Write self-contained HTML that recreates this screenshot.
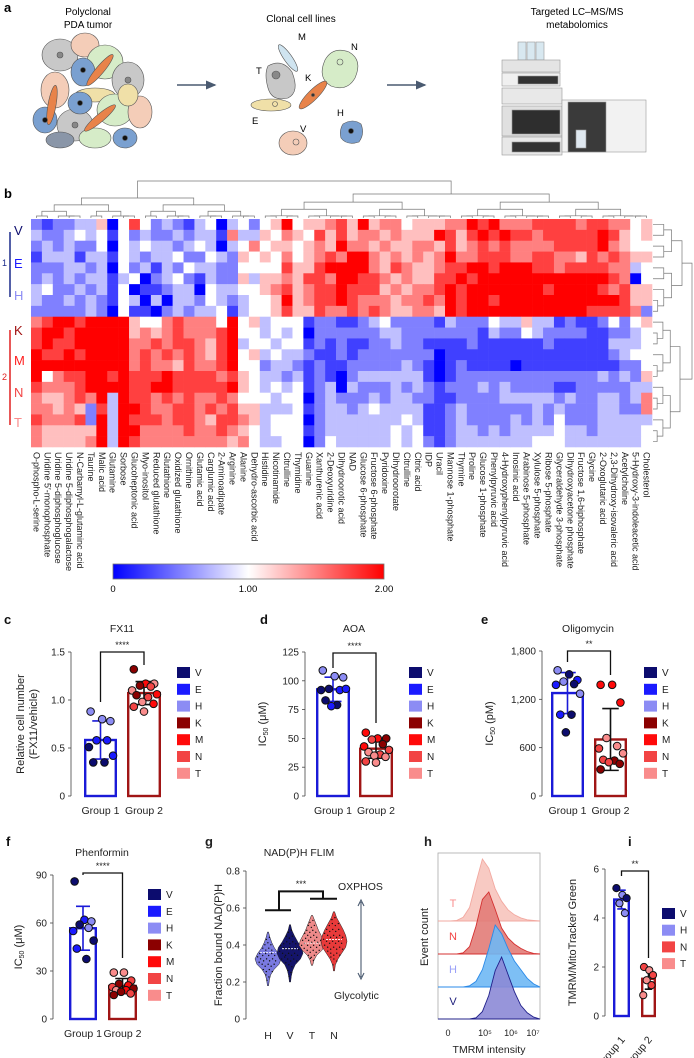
<!DOCTYPE html>
<html><head><meta charset="utf-8">
<style>
html,body{margin:0;padding:0;background:#fff;}
svg{display:block;font-family:"Liberation Sans",Arial,sans-serif;}
</style></head>
<body>
<svg id="fig" width="694" height="1058" viewBox="0 0 694 1058" xmlns="http://www.w3.org/2000/svg">
<defs>
<linearGradient id="cbar" x1="0" x2="1" y1="0" y2="0">
<stop offset="0" stop-color="#0000ff"/><stop offset="0.5" stop-color="#ffffff"/><stop offset="1" stop-color="#ff0000"/>
</linearGradient>
<marker id="arr" markerWidth="8" markerHeight="8" refX="6" refY="4" orient="auto"><path d="M0,1 L7,4 L0,7 z" fill="#4a5a70"/></marker>
<marker id="arr2" markerWidth="8" markerHeight="8" refX="6" refY="4" orient="auto"><path d="M0,1 L7,4 L0,7 z" fill="#4a5a70"/></marker>
</defs>

<!-- Panel a -->
<g>
<text x="4" y="12" font-size="13" font-weight="bold">a</text>
<text x="88" y="15" font-size="10" text-anchor="middle">Polyclonal</text>
<text x="88" y="28" font-size="10" text-anchor="middle">PDA tumor</text>
<g stroke="#555" stroke-width="0.6">
<ellipse cx="60" cy="55" rx="18" ry="16" fill="#c8c8c8"/>
<ellipse cx="85" cy="45" rx="14" ry="12" fill="#f4cdb8"/>
<ellipse cx="105" cy="62" rx="18" ry="17" fill="#d6ecc8"/>
<ellipse cx="128" cy="80" rx="16" ry="18" fill="#c8c8c8"/>
<ellipse cx="83" cy="72" rx="12" ry="14" fill="#7aa0d0"/>
<ellipse cx="95" cy="95" rx="20" ry="7" fill="#f0e0a8"/>
<ellipse cx="55" cy="90" rx="14" ry="18" fill="#f4cdb8"/>
<ellipse cx="115" cy="110" rx="18" ry="16" fill="#d6ecc8"/>
<ellipse cx="140" cy="112" rx="12" ry="16" fill="#f4cdb8"/>
<ellipse cx="45" cy="120" rx="12" ry="13" fill="#7aa0d0"/>
<ellipse cx="75" cy="125" rx="18" ry="16" fill="#c8c8c8"/>
<ellipse cx="60" cy="140" rx="14" ry="8" fill="#8a96a8"/>
<ellipse cx="95" cy="138" rx="16" ry="10" fill="#d6ecc8"/>
<ellipse cx="125" cy="138" rx="12" ry="10" fill="#7aa0d0"/>
<ellipse cx="100" cy="118" rx="4" ry="20" fill="#e8834a" transform="rotate(50 100 118)"/>
<ellipse cx="52" cy="105" rx="4" ry="20" fill="#e8834a" transform="rotate(10 52 105)"/>
<ellipse cx="100" cy="70" rx="4" ry="20" fill="#e8834a" transform="rotate(40 100 70)"/>
<ellipse cx="80" cy="103" rx="12" ry="11" fill="#7aa0d0"/>
<ellipse cx="128" cy="95" rx="10" ry="11" fill="#f0e0a8"/>
<circle cx="83" cy="70" r="2.5" fill="#111"/>
<circle cx="45" cy="120" r="2.5" fill="#111"/>
<circle cx="125" cy="138" r="2.5" fill="#111"/>
<circle cx="80" cy="103" r="2.5" fill="#111"/>
<circle cx="60" cy="55" r="3" fill="#888"/>
<circle cx="128" cy="80" r="3" fill="#888"/>
<circle cx="75" cy="125" r="3" fill="#888"/>
</g>
<line x1="177" y1="85" x2="215" y2="85" stroke="#4a5a70" stroke-width="1.5" marker-end="url(#arr)"/>
<text x="301" y="22" font-size="10" text-anchor="middle">Clonal cell lines</text>
<g stroke="#555" stroke-width="0.6">
<ellipse cx="288" cy="58" rx="4" ry="16" fill="#cfe4f0" transform="rotate(-35 288 58)"/>
<path d="M325,60 q8,-14 24,-8 q14,8 6,26 q-8,14 -24,8 q-14,-8 -6,-26z" fill="#d6ecc8"/>
<circle cx="340" cy="62" r="3" fill="none"/>
<path d="M268,66 q14,-8 24,6 q8,20 -4,26 q-16,4 -20,-10 q-4,-14 0,-22z" fill="#c8c8c8"/>
<circle cx="276" cy="75" r="4" fill="#888"/>
<ellipse cx="313" cy="95" rx="5" ry="19" fill="#e8834a" transform="rotate(45 313 95)"/>
<circle cx="313" cy="95" r="1.5" fill="#333"/>
<ellipse cx="271" cy="105" rx="20" ry="6" fill="#f0e0a8"/>
<circle cx="275" cy="104" r="2.5" fill="none"/>
<path d="M343,124 q10,-6 18,0 q4,10 -2,18 q-12,4 -18,-4 q-2,-8 2,-14z" fill="#7aa0d0"/>
<circle cx="351" cy="131" r="2.5" fill="#111"/>
<ellipse cx="293" cy="143" rx="14" ry="12" fill="#f4cdb8"/>
<circle cx="296" cy="142" r="3" fill="none"/>
</g>
<g font-size="9.5">
<text x="298" y="40">M</text><text x="351" y="50">N</text><text x="256" y="74">T</text>
<text x="305" y="81">K</text><text x="252" y="124">E</text><text x="337" y="116">H</text><text x="300" y="132">V</text>
</g>
<line x1="387" y1="85" x2="425" y2="85" stroke="#4a5a70" stroke-width="1.5" marker-end="url(#arr2)"/>
<text x="577" y="15" font-size="10" text-anchor="middle">Targeted LC–MS/MS</text>
<text x="577" y="28" font-size="10" text-anchor="middle">metabolomics</text>
<g stroke="#999" stroke-width="0.6">
<rect x="518" y="42" width="8" height="18" fill="#d8e8f0"/><rect x="527" y="42" width="8" height="18" fill="#d8e8f0"/><rect x="536" y="42" width="8" height="18" fill="#d8e8f0"/>
<rect x="502" y="60" width="58" height="12" fill="#e4e4e4"/>
<rect x="502" y="73" width="58" height="13" fill="#f0f0f0"/><rect x="518" y="76" width="40" height="8" fill="#333"/>
<rect x="502" y="88" width="60" height="16" fill="#e8e8e8"/>
<rect x="502" y="106" width="60" height="30" fill="#e0e0e0"/><rect x="512" y="110" width="48" height="24" fill="#2e2e2e"/>
<rect x="502" y="137" width="60" height="18" fill="#e8e8e8"/><rect x="512" y="142" width="48" height="10" fill="#333"/>
<rect x="562" y="100" width="84" height="52" fill="#f2f2f2"/>
<rect x="568" y="102" width="38" height="50" fill="#3a3a3a"/>
<rect x="576" y="130" width="10" height="18" fill="#dfe8f0"/>
</g>
</g>

<text x="4" y="198" font-size="13" font-weight="bold">b</text>
<g id="heat"></g>
<g>
<rect x="113" y="564" width="271" height="15" fill="url(#cbar)" stroke="#777" stroke-width="0.8"/>
<text x="113" y="592" font-size="9.5" text-anchor="middle">0</text>
<text x="248" y="592" font-size="9.5" text-anchor="middle">1.00</text>
<text x="384" y="592" font-size="9.5" text-anchor="middle">2.00</text>
</g>
<g id="panels"></g>
</svg>

<script>
// ---------- Heatmap data ----------
const heatRowLabels = ['V','','E','','','H','','','', 'K','','M','','','N','','','T','','',''];
const heatColumns = ['O-phospho-L-serine','Uridine 5\u2032-monophosphate','Uridine 5-diphosphoglucose','Uridine 5-diphosphogalactose','N-Carbamyl-L-glutaminc acid','Taurine','Malic acid','Glutamine','Sorbose','Glucoheptonic acid','Myo-inositol','Reduced glutathione','Glutathione','Oxidized glutathione','Ornithine','Glutamic acid','Carglumic acid','2-Aminoadipate','Arginine','Alanine','Dehydro-ascorbic acid','Histidine','Nicotinamide','Citrulline','Thymidine','Guanine','Xanthurenic acid','2-Deoxyuridine','Dihydroorotic acid','NAD','Glucose 6-phosphate','Fructose 6-phosphate','Pyridoxine','Dihydroorotate','Citrulline','Citric acid','IDP','Uracil','Mannose 1-phosphate','Thymine','Proline','Glucose 1-phosphate','Phenylpyruvic acid','4-Hydroxyphenylpyruvic acid','Inosinic acid','Arabinose 5-phosphate','Xylulose 5-phosphate','Ribose 5-phosphate','Glyceraldehyde 3-phosphate','Dihydroxyacetone phosphate','Fructose 1,6-biphosphate','Glycine','2-Oxoglutaric acid','2,3-Dihydroxy-isovaleric acid','Acetylcholine','5-Hydroxy-3-indoleacetic acid','Cholesterol'];
// values coded 0..8 (0 = 0.00, 4 = 1.00, 8 = 2.00)
const heatGroup1Left = ['212233504742321340342','322343414232232331633','232322404343323430346','133313314323342243254','222332304231324332244','232323313402342132253','342232314011233043344','322323214303033243234','222223204110232334134'];
const heatGroup1Right = ['458455675856645556687866677776776645','546547575665655587578787767777787545','455456586656556657567676666777786544','546456768865656568667776677665767655','447557888865765567788788877677776634','556577688776565577878888888888887604','567567787775656678788888887888876755','458567787666566768788788888888888755','457557667676556658788888888888777762'];
const heatGroup2Left = ['678878888544676664845','788788888565676667844','787788888667677657834','877878888676767657845','888888888676657667844','846778878777877776754','766678888778877777854','655676838776767667644','665652738876677676755','766672838777677657765','655555838866667667654','655556838766666666564'];
const heatGroup2Right = ['344412211234222213222433533121124245','343402222223322222221322432222112234','434412121122322111121111112111113334','343321121222222201111111111111112344','233212112222232101211110111111111224','332312102333333101222222222222232325','343412303222323212223232222112222233','434402322232332211222233333232233236','333412332343333112322222232322233226','344402333333343112322223232422233333','344412333333434112332323333433233334','334402433333434212333333344433333334'];

// ---------- Bar chart data ----------
const cCats = ['Group 1','Group 2'];
const cG1 = [0.88,0.80,0.78,0.58,0.58,0.51,0.42,0.35,0.35];
const cG1Lines = ['H','H','H','E','E','V','E','V','V'];
const cG2 = [1.32,1.17,1.17,1.15,1.14,1.10,1.06,1.05,1.03,0.98,0.96,0.93,0.88];
const cG2Lines = ['K','M','T','K','N','T','M','K','N','T','M','N','T'];
const cTicks = [0,0.5,1.0,1.5];
const cTickLabels = ['0','0.5','1.0','1.5'];

const dG1 = [109,104,103,93,92,92,93,83,79,78];
const dG1Lines = ['H','H','H','V','E','V','E','V','V','E'];
const dG2 = [55,50,50,49,45,43,40,38,36,35,34,30,29];
const dG2Lines = ['M','M','K','N','K','M','N','T','N','T','T','N','T'];
const dTicks = [0,25,50,75,100,125];
const dTickLabels = ['0','25','50','75','100','125'];

const eG1 = [1560,1510,1440,1420,1390,1380,1270,1010,1010,790];
const eG1Lines = ['H','V','E','H','V','E','H','E','V','V'];
const eG2 = [1380,1380,1160,720,620,590,530,450,440,420,400,330];
const eG2Lines = ['M','M','M','T','T','N','T','N','K','N','K','K'];
const eTicks = [0,600,1200,1800];
const eTickLabels = ['0','600','1,200','1,800'];

const fG1 = [86,62,61,59,57,55,49,44,37.5];
const fG1Lines = ['V','E','H','V','H','E','V','E','V'];
const fG2 = [29,29,24,22,21,20,19,18,18,17,16,15];
const fG2Lines = ['T','T','N','K','M','N','K','T','M','K','N','K'];
const fTicks = [0,30,60,90];
const fTickLabels = ['0','30','60','90'];

const iG1 = [5.22,4.94,4.81,4.6,4.2];
const iG1Lines = ['V','H','V','H','H'];
const iG2 = [2.0,1.87,1.67,1.46,1.26,0.85];
const iG2Lines = ['N','T','N','T','N','T'];
const iTicks = [0,2,4,6];
const iTickLabels = ['0','2','4','6'];

// ---------- Violin data (g) ----------
const gCats = ['H','V','T','N'];
const gMin = [0.18,0.20,0.29,0.26];
const gMax = [0.47,0.51,0.56,0.58];
const gMedian = [0.36,0.38,0.41,0.43];
const gDensH = [0.05,0.1,0.2,0.45,0.85,1.0,0.8,0.5,0.3,0.15,0.04];
const gDensV = [0.05,0.1,0.2,0.4,0.8,1.0,0.9,0.6,0.35,0.15,0.04];
const gDensT = [0.05,0.15,0.35,0.75,1.0,0.9,0.7,0.5,0.35,0.2,0.05];
const gDensN = [0.05,0.1,0.3,0.6,0.9,1.0,0.9,0.7,0.45,0.2,0.05];
const gTicks = [0,0.2,0.4,0.6,0.8];

// ---------- Histogram data (h) ----------
const hLines = ['T','N','H','V'];
const hT = [0,0,1,6,22,62,100,85,52,32,18,10,5,2,1,0];
const hN = [0,0,0,2,12,45,88,100,72,42,26,16,9,4,1,0];
const hH = [0,0,0,0,2,9,28,62,100,86,62,42,28,14,5,0];
const hV = [0,0,0,0,0,2,12,38,78,100,72,44,22,10,3,0];
const hTickLabels = ['0','10⁵','10⁶','10⁷'];

const LINE_COLORS = {V:'#0c0c6e',E:'#1a1aff',H:'#8c8cf4',K:'#8b0000',M:'#ff0a0a',N:'#f24444',T:'#f98c8c'};

const NS = 'http://www.w3.org/2000/svg';
function mk(tag, parent){ const e=document.createElementNS(NS,tag); parent.appendChild(e); return e; }
function set(e, o){ for(const k in o) e.setAttribute(k,o[k]); return e; }
function heatColor(d){
  const v=d/8;
  if(v<=0.5){ const t=v/0.5; const c=Math.round(255*t); return `rgb(${c},${c},255)`; }
  const t=(v-0.5)/0.5; const c=Math.round(255*(1-t)); return `rgb(255,${c},${c})`;
}

// ---------- Heatmap ----------
const heat = document.getElementById('heat');
const HX0=31, HX1=652, HY0=219, HY1=447;
const nCols = heatColumns.length;
const allRows = [];
for(let r=0;r<heatGroup1Left.length;r++) allRows.push(heatGroup1Left[r]+heatGroup1Right[r]);
for(let r=0;r<heatGroup2Left.length;r++) allRows.push(heatGroup2Left[r]+heatGroup2Right[r]);
const nRows = allRows.length;
const cw=(HX1-HX0)/nCols, rh=(HY1-HY0)/nRows;
function colX(i){ return HX0+i*cw; }
function rowY(j){ return HY0+j*rh; }
for(let j=0;j<nRows;j++){
  for(let i=0;i<nCols;i++){
    const ch = allRows[j][i]; const d = ch===undefined?4:+ch;
    const r = mk('rect',heat);
    set(r,{x:colX(i).toFixed(2),y:rowY(j).toFixed(2),width:(cw+0.3).toFixed(2),height:(rh+0.3).toFixed(2),fill:heatColor(d)});
    
    
  }
}
// column labels
for(let i=0;i<nCols;i++){
  const t=mk('text',heat);
  const x=colX(i)+cw/2-3, y=452;
  set(t,{x:x,y:y,'font-size':9,transform:`rotate(90 ${x} ${y})`,fill:'#222'});
  t.textContent=heatColumns[i];
  
  
}
// row labels
const rowLabelPos=[['V',230,'#0c0c6e'],['E',263,'#1a1aff'],['H',295,'#8c8cf4'],['K',330,'#a01010'],['M',360,'#ff2020'],['N',392,'#f24444'],['T',422,'#f98c8c']];
rowLabelPos.forEach(p=>{
  const t=mk('text',heat);
  set(t,{x:14,y:p[1]+5,'font-size':13,fill:p[2]});
  t.textContent=p[0];
  
  
});
const g1bar=mk('line',heat); set(g1bar,{x1:10,x2:10,y1:232,y2:297,stroke:'#1a2a8a','stroke-width':1.5});
 
const g2bar=mk('line',heat); set(g2bar,{x1:10,x2:10,y1:330,y2:425,stroke:'#e02020','stroke-width':1.5});
 
const g1t=mk('text',heat); set(g1t,{x:2,y:266,'font-size':9,fill:'#1a2a8a'}); g1t.textContent='1';
 
const g2t=mk('text',heat); set(g2t,{x:2,y:380,'font-size':9,fill:'#e02020'}); g2t.textContent='2';
 

// dendrograms (structure only)
const dend = mk('g',heat);


function pl(pts){ const p=mk('polyline',dend); set(p,{points:pts.map(q=>q.join(',')).join(' '),fill:'none',stroke:'#777','stroke-width':0.7}); return p; }
function colTree(a,b,yTop,depth){ // returns center x
  if(b-a<=1){ return colX(a)+cw/2; }
  const m=Math.floor((a+b)/2);
  const yc=Math.min(HY0-3, yTop+ (HY0-3-yTop)*0.3 + depth*1.5);
  const xl=colTree(a,m,yc,depth+1), xr=colTree(m,b,yc,depth+1);
  pl([[xl,childY(a,m,yc)],[xl,yTop],[xr,yTop],[xr,childY(m,b,yc)]]);
  return (xl+xr)/2;
}
function childY(a,b,yc){ return (b-a<=1)?HY0-1:yc; }
const xL=colTree(0,21,198,1), xR=colTree(21,57,194,1);
pl([[xL,198],[xL,181],[xR,181],[xR,194]]);
function rowTree(a,b,xTop,depth){
  if(b-a<=1) return rowY(a)+rh/2;
  const m=Math.floor((a+b)/2);
  const xc=Math.max(HX1+3, xTop-(xTop-HX1-3)*0.35-depth);
  const yl=rowTree(a,m,xc,depth+1), yr=rowTree(m,b,xc,depth+1);
  const cx1=(m-a<=1)?HX1+1:xc, cx2=(b-m<=1)?HX1+1:xc;
  pl([[cx1,yl],[xTop,yl],[xTop,yr],[cx2,yr]]);
  return (yl+yr)/2;
}
const yA=rowTree(0,9,682,1), yB=rowTree(9,21,680,1);
pl([[682,yA],[692,yA],[692,yB],[680,yB]]);

// ---------- Bar panels ----------
const panels=document.getElementById('panels');
function text(parent,x,y,s,size,anchor,extra){ const t=mk('text',parent); set(t,Object.assign({x:x,y:y,'font-size':size,'text-anchor':anchor||'start',fill:'#222'},extra||{})); t.textContent=s; return t; }
function mean(a){ return a.reduce((s,v)=>s+v,0)/a.length; }
function sd(a){ const m=mean(a); return Math.sqrt(a.reduce((s,v)=>s+(v-m)*(v-m),0)/(a.length-1)); }
const jit=[-0.3,0.05,0.3,-0.12,0.2,-0.35,0.38,-0.22,0.12,-0.05,0.28,-0.3,0.0];

function barPanel(p){
  const g=mk('g',panels);
  
  
  const Y=v=>p.y0-(v/p.max)*(p.y0-p.yTop);
  const ax=mk('line',g); set(ax,{x1:p.ax,x2:p.ax,y1:p.y0,y2:p.yTop,stroke:'#444','stroke-width':0.8});
   
  p.ticks.forEach((tv,k)=>{
    const tk=mk('line',g); set(tk,{x1:p.ax-3,x2:p.ax,y1:Y(tv),y2:Y(tv),stroke:'#444','stroke-width':0.8});
     
    const tl=text(g,p.ax-6,Y(tv)+3.5,p.tickLabels[k],10,'end');
     
  });
  p.groups.forEach((gr,gi)=>{
    const m=mean(gr.vals), s=sd(gr.vals);
    const b=mk('rect',g); set(b,{x:gr.x0+1.2,y:Y(m),width:gr.x1-gr.x0-2.4,height:p.y0-Y(m),fill:'#fff',stroke:gr.color,'stroke-width':2.4});
     
    const cx=(gr.x0+gr.x1)/2, w=gr.x1-gr.x0;
    const ec=gi===0?gr.color:'#111';
    const e1=mk('path',g); set(e1,{d:`M${cx},${Y(m+s)}V${Y(m-s)}M${cx-w*0.25},${Y(m+s)}H${cx+w*0.25}M${cx-w*0.25},${Y(m-s)}H${cx+w*0.25}`,stroke:ec,'stroke-width':1.6,fill:'none'});
     
    gr.vals.forEach((v,k)=>{
      const c=mk('circle',g); set(c,{cx:cx+jit[k%jit.length]*w,cy:Y(v),r:p.r||3.8,fill:LINE_COLORS[gr.lines[k]],stroke:'#111','stroke-width':1});
       
    });
    if(p.rotLabels){
      const tl=text(g,cx+4,p.labelY,p.cats[gi],10.5,'end',{transform:`rotate(-50 ${cx+4} ${p.labelY})`});
       
    } else {
      const tl=text(g,cx,p.labelY,p.cats[gi],10.5,'middle');
       
    }
  });
  // significance bracket
  const c1=(p.groups[0].x0+p.groups[0].x1)/2, c2=(p.groups[1].x0+p.groups[1].x1)/2;
  const br=mk('path',g); set(br,{d:`M${c1},${p.sig[1]}V${p.sig[0]}H${c2}V${p.sig[2]}`,stroke:'#111','stroke-width':1.3,fill:'none'});
   
  const st=text(g,(c1+c2)/2,p.sig[0]-4,p.stars,9,'middle');
   
  if(p.title){ const tt=text(g,p.titleX,p.titleY,p.title,10.5,'middle');   }
  const pl2=text(g,p.letter[1],p.letter[2],p.letter[0],13,'start',{'font-weight':'bold',fill:'#111'});
   
  // y label
  p.ylab.forEach((l,k)=>{
    const yc=(p.y0+p.yTop)/2, x=p.ylabX+k*13;
    const t=text(g,x,yc,'',11,'middle',{transform:`rotate(-90 ${x} ${yc})`});
    t.innerHTML=l;
     
  });
  // legend
  p.legend.forEach((k,i)=>{
    const y=p.legY+i*p.legStep;
    const sq=mk('rect',g); set(sq,{x:p.legX,y:y-5,width:13,height:11,fill:LINE_COLORS[k]});
     
    const lt=text(g,p.legX+18,y+4,k,10,'start');
     
  });
}
const L7=['V','E','H','K','M','N','T'];
barPanel({name:'panel-c-fx11',ax:71,y0:796,yTop:652,max:1.5,ticks:cTicks,tickLabels:cTickLabels,cats:cCats,labelY:814,
  groups:[{x0:84,x1:117,vals:cG1,lines:cG1Lines,color:'#1a1ad8'},{x0:127,x1:161,vals:cG2,lines:cG2Lines,color:'#a01515'}],
  sig:[652,702,665],stars:'****',title:'FX11',titleX:122,titleY:632,letter:['c',4,624],
  ylab:['Relative cell number','(FX11/vehicle)'],ylabX:24,legend:L7,legX:177,legY:672,legStep:16.8});
barPanel({name:'panel-d-aoa',ax:305,y0:796,yTop:652,max:125,ticks:dTicks,tickLabels:dTickLabels,cats:cCats,labelY:814,
  groups:[{x0:316,x1:350,vals:dG1,lines:dG1Lines,color:'#1a1ad8'},{x0:359,x1:393,vals:dG2,lines:dG2Lines,color:'#a01515'}],
  sig:[653,668,723],stars:'****',title:'AOA',titleX:354,titleY:632,letter:['d',260,624],
  ylab:['IC<tspan font-size="7" dy="2">50</tspan><tspan dy="-2"> (μM)</tspan>'],ylabX:266,legend:L7,legX:409,legY:672,legStep:16.8});
barPanel({name:'panel-e-oligomycin',ax:542,y0:796,yTop:651,max:1800,ticks:eTicks,tickLabels:eTickLabels,cats:cCats,labelY:814,
  groups:[{x0:551,x1:584,vals:eG1,lines:eG1Lines,color:'#1a1ad8'},{x0:594,x1:627,vals:eG2,lines:eG2Lines,color:'#a01515'}],
  sig:[651,662,675],stars:'**',title:'Oligomycin',titleX:588,titleY:632,letter:['e',481,624],
  ylab:['IC<tspan font-size="7" dy="2">50</tspan><tspan dy="-2"> (pM)</tspan>'],ylabX:493,legend:L7,legX:644,legY:672,legStep:16.8});
barPanel({name:'panel-f-phenformin',ax:53,y0:1019,yTop:875,max:90,ticks:fTicks,tickLabels:fTickLabels,cats:cCats,labelY:1037,
  groups:[{x0:69,x1:97,vals:fG1,lines:fG1Lines,color:'#1a1ad8'},{x0:108,x1:137,vals:fG2,lines:fG2Lines,color:'#a01515'}],
  sig:[873,875,958],stars:'****',title:'Phenformin',titleX:102,titleY:856,letter:['f',6,846],
  ylab:['IC<tspan font-size="7" dy="2">50</tspan><tspan dy="-2"> (μM)</tspan>'],ylabX:22,legend:L7,legX:148,legY:894,legStep:16.8});
barPanel({name:'panel-i-tmrm',ax:605,y0:1016,yTop:869,max:6,ticks:iTicks,tickLabels:iTickLabels,cats:cCats,labelY:1040,rotLabels:true,r:3.6,
  groups:[{x0:613,x1:630,vals:iG1,lines:iG1Lines,color:'#1a1ad8'},{x0:641,x1:656,vals:iG2,lines:iG2Lines,color:'#a01515'}],
  sig:[871,876,958],stars:'**',title:'',letter:['i',628,846],
  ylab:['TMRM/MitoTracker Green'],ylabX:576,legend:['V','H','N','T'],legX:662,legY:913,legStep:16.7});

// ---------- Violin panel g ----------
(function(){
  const g=mk('g',panels);
  
  
  const AX=246, Y0=1019, YT=871;
  const Y=v=>Y0-(v/0.8)*(Y0-YT);
  const X=i=>268+i*22;
  const ax=mk('line',g); set(ax,{x1:AX,x2:AX,y1:Y0,y2:YT,stroke:'#444','stroke-width':0.8});
   
  gTicks.forEach(tv=>{
    const tk=mk('line',g); set(tk,{x1:AX-3,x2:AX,y1:Y(tv),y2:Y(tv),stroke:'#444','stroke-width':0.8});
     
    const tl=text(g,AX-6,Y(tv)+3.5,tv===0?'0':tv.toFixed(1),10,'end');
     
  });
  const dens=[gDensH,gDensV,gDensT,gDensN];
  const fills=['#7a7ae0','#14146a','#ee8a8a','#e83a3a'];
  gCats.forEach((c,i)=>{
    const d=dens[i], n=d.length, cx=X(i), W=13;
    let right=[], left=[];
    for(let k=0;k<n;k++){ const v=gMin[i]+(gMax[i]-gMin[i])*k/(n-1); right.push([cx+d[k]*W,Y(v)]); left.push([cx-d[k]*W,Y(v)]); }
    const pts=right.concat(left.reverse());
    const vp=mk('polygon',g); set(vp,{points:pts.map(q=>q[0].toFixed(1)+','+q[1].toFixed(1)).join(' '),fill:fills[i],stroke:'#222','stroke-width':0.5});
     
    // stippling texture to imitate single-cell dots
    for(let k=1;k<n-1;k++){
      const v=gMin[i]+(gMax[i]-gMin[i])*k/(n-1);
      const hw=d[k]*W*0.8;
      for(let s=-hw;s<=hw;s+=3){
        const dt=mk('circle',g); set(dt,{cx:cx+s,cy:Y(v)+((k+Math.round(s))%2)*2,r:0.7,fill:'#111'});
         
      }
    }
    const md=mk('line',g); set(md,{x1:cx-8,x2:cx+8,y1:Y(gMedian[i]),y2:Y(gMedian[i]),stroke:'#fff','stroke-width':0.8,'stroke-dasharray':'2,1'});
     
    const tl=text(g,cx,1039,c,10.5,'middle');
     
  });
  const br=mk('path',g); set(br,{d:`M${X(0)-3},${Y(0.588)}H${X(1)+1}M${X(0.5)},${Y(0.588)}V${Y(0.69)}H${X(2.5)}V${Y(0.65)}M${X(2)-2},${Y(0.65)}H${X(3)+3}`,stroke:'#111','stroke-width':2,fill:'none'});
   
  const st=text(g,301,887,'***',9,'middle');  
  const ox=text(g,338,890,'OXPHOS',10.5,'start');  
  const gl=text(g,334,999,'Glycolytic',10.5,'start');  
  const ar=mk('path',g); set(ar,{d:'M361,902V977M358,906L361,900L364,906M358,973L361,979L364,973',stroke:'#4a5a70','stroke-width':1.1,fill:'none'});
   
  const tt=text(g,299,856,'NAD(P)H FLIM',10.5,'middle');  
  const lb=text(g,205,846,'g',13,'start',{'font-weight':'bold'});  
  const yl=text(g,222,945,'Fraction bound NAD(P)H',11,'middle',{transform:'rotate(-90 222 945)'});  
})();

// ---------- Histogram panel h ----------
(function(){
  const g=mk('g',panels);
  
  
  const BX0=438,BX1=540,BY0=853,BY1=1019;
  const box=mk('rect',g); set(box,{x:BX0,y:BY0,width:BX1-BX0,height:BY1-BY0,fill:'none',stroke:'#aaa','stroke-width':0.8});
   
  const series=[hT,hN,hH,hV];
  const bases=[921,954,987,1019];
  const fills=['#f7c4bc','#e27c78','#6fb8f4','#8c8ad6'];
  const strokes=['#f2a8a0','#d43030','#2a8ae8','#20208a'];
  const labCol=['#f98c8c','#f24444','#9aa0f8','#1c1c7a'];
  const HX0=444, HW=96;
  series.forEach((s,si)=>{
    const n=s.length, base=bases[si], H=62;
    const xs=k=>HX0+HW*k/(n-1);
    let d=`M${BX0},${base}L${xs(0)},${base}`;
    for(let k=0;k<n;k++) d+=`L${xs(k).toFixed(1)},${(base-s[k]/100*H).toFixed(1)}`;
    d+=`L${BX1},${base}Z`;
    const p=mk('path',g); set(p,{d:d,fill:fills[si],stroke:strokes[si],'stroke-width':0.9,'fill-opacity':0.9});
     
    const lt=text(g,453,base-14,hLines[si],11,'middle',{fill:labCol[si]});
     
  });
  const tx=[448,485,511,533];
  hTickLabels.forEach((l,k)=>{
    const t=text(g,tx[k],1036,l,9,'middle');
     
  });
  const xt=text(g,489,1053,'TMRM intensity',10.5,'middle');  
  const yt=text(g,428,937,'Event count',11,'middle',{transform:'rotate(-90 428 937)'});  
  const lb=text(g,424,846,'h',13,'start',{'font-weight':'bold'});  
})();
</script>
</body></html>
